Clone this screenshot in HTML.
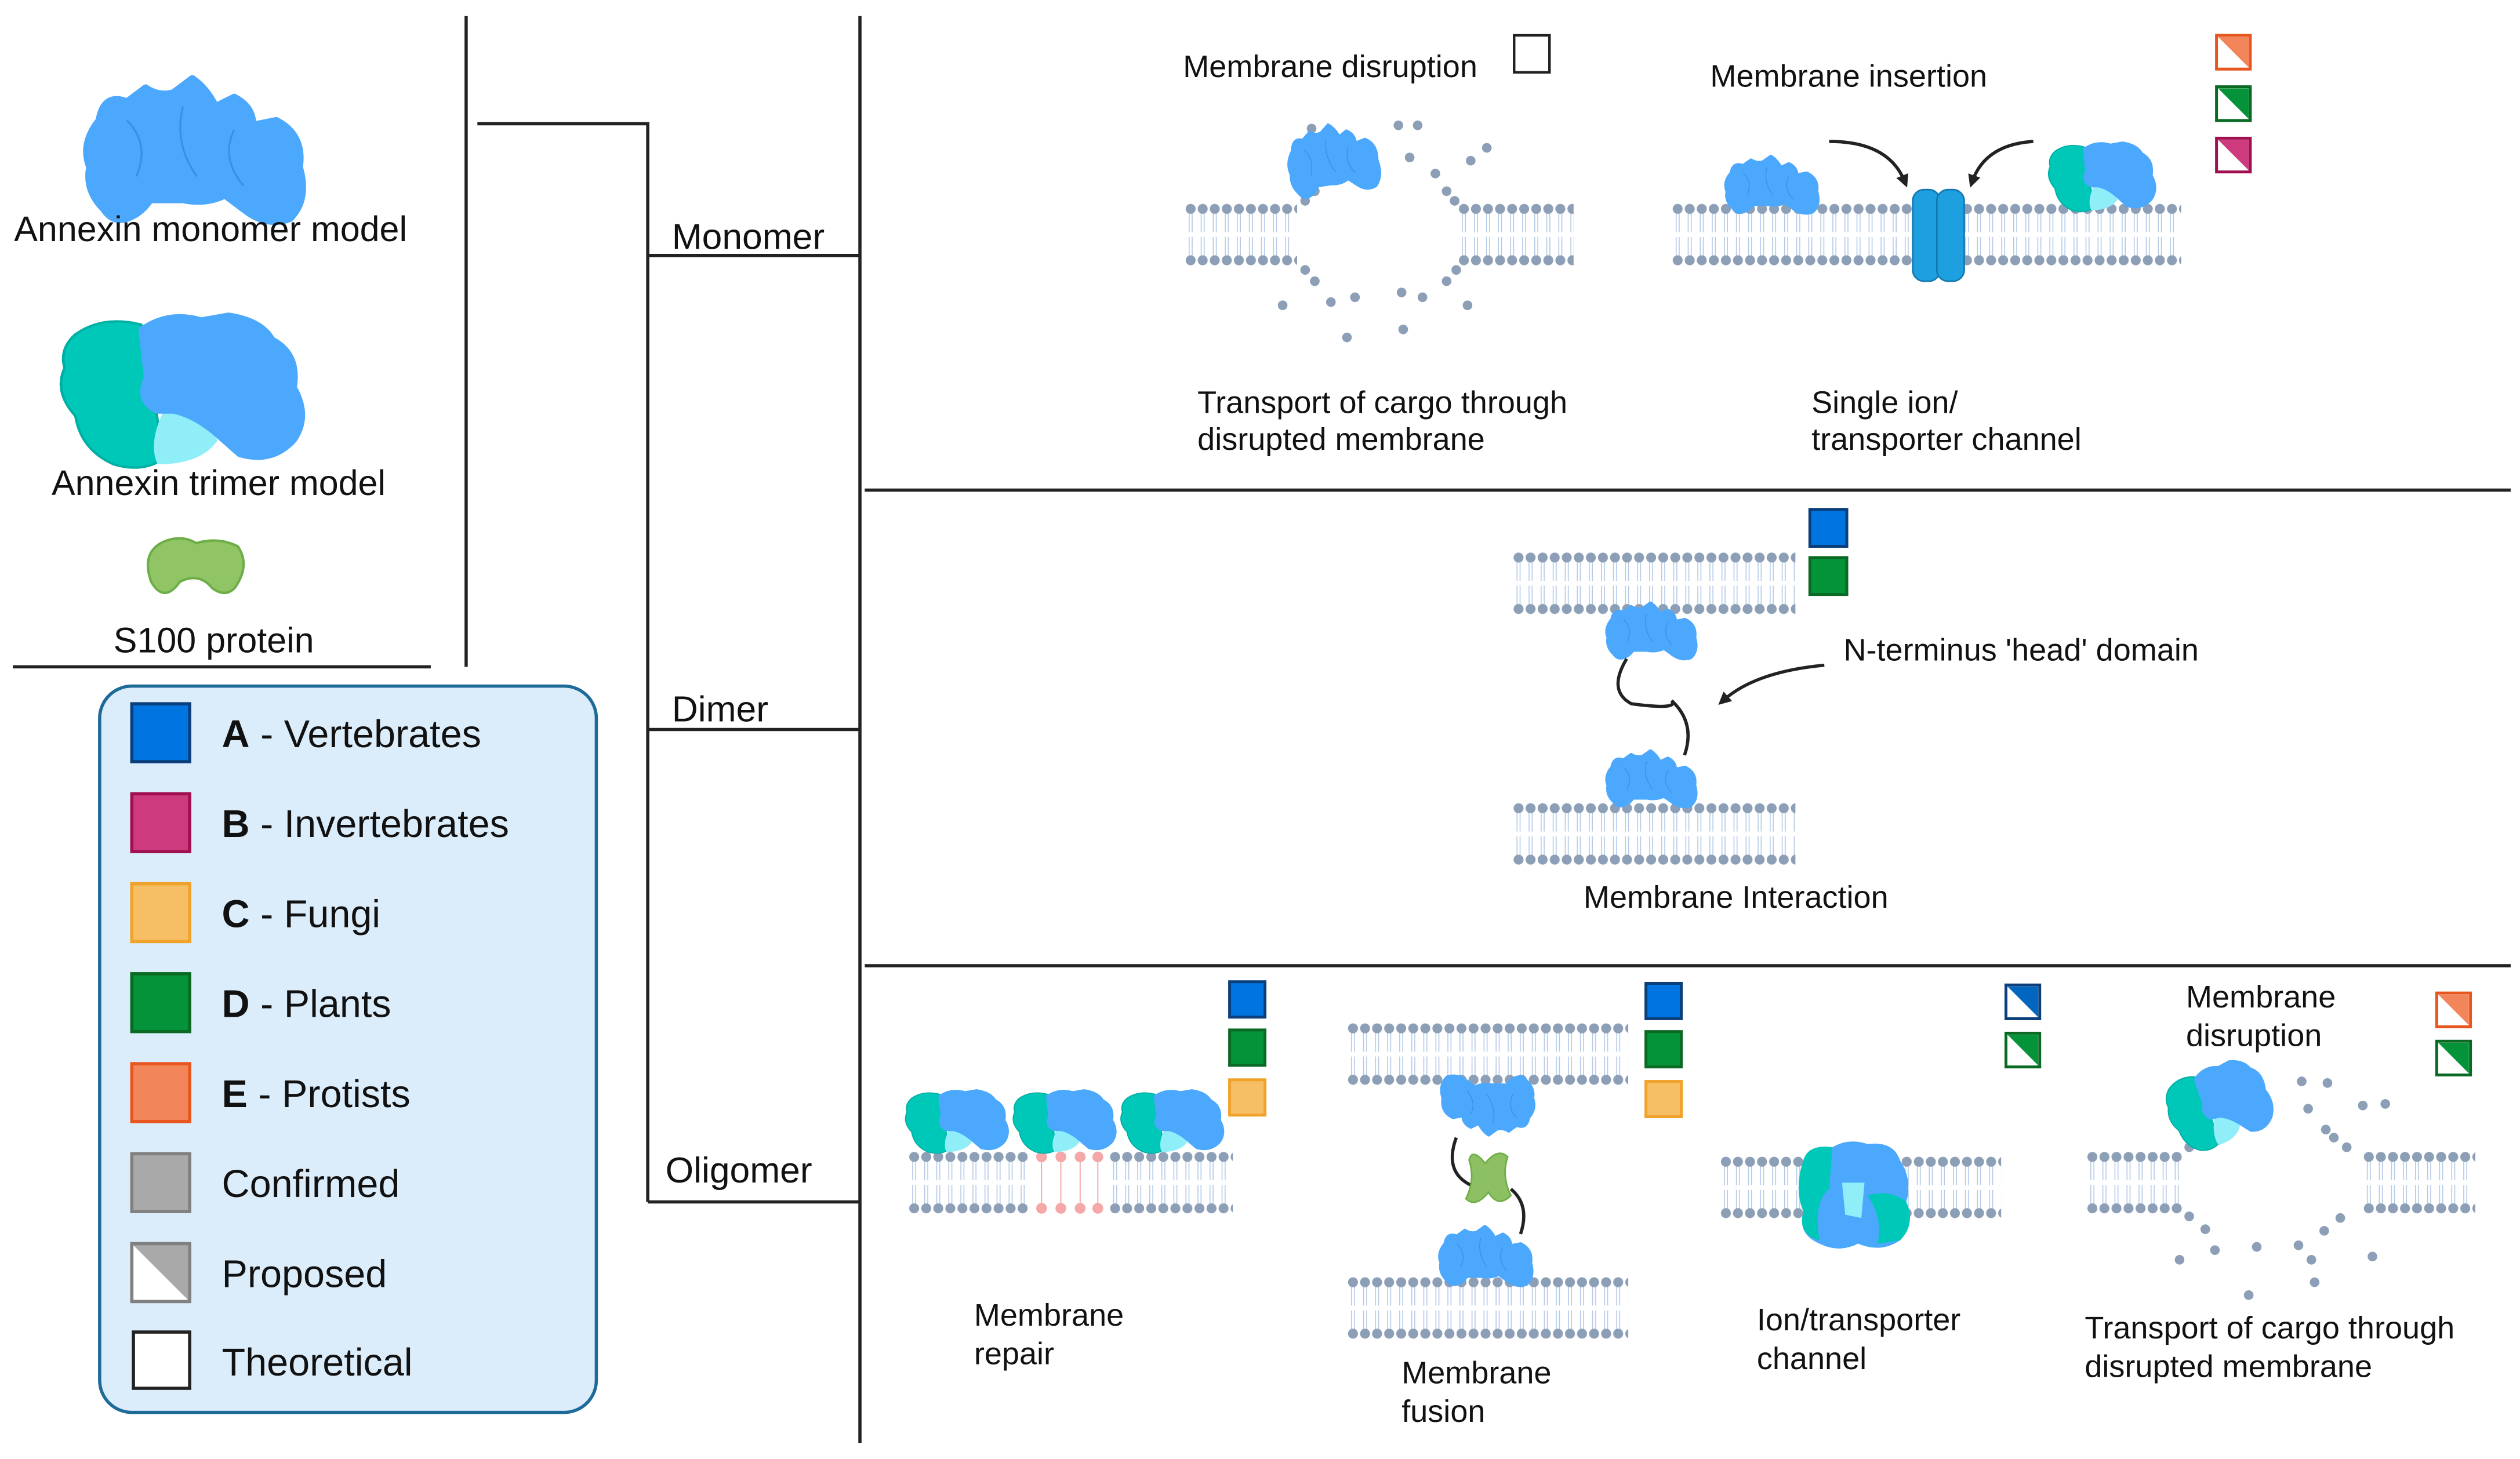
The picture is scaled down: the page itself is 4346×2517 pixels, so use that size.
<!DOCTYPE html>
<html><head><meta charset="utf-8">
<style>
html,body{margin:0;padding:0;background:#fff;}
svg{display:block;}
text{font-family:"Liberation Sans",sans-serif;fill:#111;}
</style></head>
<body>
<svg width="4346" height="2517" viewBox="0 0 1567.8 908" xmlns="http://www.w3.org/2000/svg">
<defs>
  <pattern id="mem" width="7.5" height="39" patternUnits="userSpaceOnUse">
    <line x1="2.8" y1="6" x2="2.8" y2="18" stroke="#b6cbe6" stroke-width="0.6"/>
    <line x1="4.7" y1="6" x2="4.7" y2="18" stroke="#b6cbe6" stroke-width="0.6"/>
    <line x1="2.8" y1="21" x2="2.8" y2="33" stroke="#b6cbe6" stroke-width="0.6"/>
    <line x1="4.7" y1="21" x2="4.7" y2="33" stroke="#b6cbe6" stroke-width="0.6"/>
    <circle cx="3.75" cy="3.5" r="3.1" fill="#8c9fb6"/>
    <circle cx="3.75" cy="35.5" r="3.1" fill="#8c9fb6"/>
  </pattern>
  <g id="mono">
    <path d="M8,20 Q10,8 20,12 L28,6 Q34,10 40,8 L48,2 Q54,6 58,14 L66,10 Q74,14 74,22 L84,20 Q96,26 94,40 Q98,54 90,62 Q80,66 70,58 L62,52 Q54,56 44,54 L30,54 Q26,60 20,62 Q14,64 10,58 Q2,50 4,40 Q0,30 8,20 Z" fill="#4ba8fd" stroke="#4ba8fd" stroke-width="3" stroke-linejoin="round"/>
    <path d="M20,20 Q30,30 24,44 M44,14 Q40,30 50,44 M66,24 Q60,36 70,48" fill="none" stroke="#3a8fe0" stroke-width="0.8"/>
  </g>
  <g id="tri">
    <path d="M10,12 Q20,4 34,8 L40,30 Q38,50 44,62 Q36,70 24,66 Q12,60 10,46 Q2,36 6,26 Q4,18 10,12 Z" fill="#00c8b9" stroke="#00b0a4" stroke-width="1"/>
    <path d="M44,40 Q56,44 62,56 Q56,66 40,66 Q36,56 44,40 Z" fill="#90eef8"/>
    <path d="M34,10 Q44,2 56,6 L66,4 Q78,6 82,14 Q92,20 90,34 Q96,46 90,56 Q82,66 70,62 L62,54 Q54,46 46,44 L40,44 Q32,40 36,30 Z" fill="#4ba8fd" stroke="#4ba8fd" stroke-width="2" stroke-linejoin="round"/>
  </g>
  <marker id="ah" markerWidth="8" markerHeight="8" refX="4" refY="4" orient="auto" markerUnits="userSpaceOnUse">
    <path d="M0,0 L8,4 L0,8 Z" fill="#222"/>
  </marker>
</defs>

<!-- left column -->
<use href="#mono" transform="translate(50,46) scale(1.45)"/>
<text x="131" y="150" font-size="22" text-anchor="middle">Annexin monomer model</text>
<use href="#tri" transform="translate(30,190) scale(1.7,1.5)"/>
<text x="136" y="308" font-size="22" text-anchor="middle">Annexin trimer model</text>
<path d="M94,362 Q88,345 100,338 Q112,332 122,338 Q136,334 148,340 Q156,352 146,366 Q140,372 132,366 Q124,356 112,362 Q102,376 94,362 Z" fill="#90c465" stroke="#6eae48" stroke-width="1.5"/>
<text x="133" y="406" font-size="22" text-anchor="middle">S100 protein</text>
<line x1="8" y1="415" x2="268" y2="415" stroke="#222" stroke-width="2"/>
<line x1="290" y1="10" x2="290" y2="415" stroke="#222" stroke-width="2"/>

<!-- tree -->
<g stroke="#222" stroke-width="2" fill="none">
<polyline points="297,77 403,77 403,748"/>
<line x1="403" y1="159" x2="535" y2="159"/>
<line x1="403" y1="454" x2="535" y2="454"/>
<line x1="403" y1="748" x2="535" y2="748"/>
<line x1="535" y1="10" x2="535" y2="898"/>
<line x1="538" y1="305" x2="1562" y2="305"/>
<line x1="538" y1="601" x2="1562" y2="601"/>
</g>
<text x="418" y="155" font-size="22.5">Monomer</text>
<text x="418" y="449" font-size="22.5">Dimer</text>
<text x="414" y="736" font-size="22.5">Oligomer</text>

<!-- legend -->
<rect x="62" y="427" width="309" height="452" rx="20" fill="#dbedfb" stroke="#1e6a98" stroke-width="2"/>
<g stroke-width="2">
<rect x="82" y="438" width="36" height="36" fill="#0074e0" stroke="#0b3f7c"/>
<rect x="82" y="494" width="36" height="36" fill="#cd3a7e" stroke="#a0104f"/>
<rect x="82" y="550" width="36" height="36" fill="#f6bf66" stroke="#f0a22a"/>
<rect x="82" y="606" width="36" height="36" fill="#049338" stroke="#0a6a24"/>
<rect x="82" y="662" width="36" height="36" fill="#f3855a" stroke="#e6561e"/>
<rect x="82" y="718" width="36" height="36" fill="#a9a9a9" stroke="#808080"/>
<rect x="82" y="774" width="36" height="36" fill="#fff" stroke="#808080"/>
<path d="M83,775 L117,775 L117,809 Z" fill="#a9a9a9"/>
<rect x="82" y="774" width="36" height="36" fill="none" stroke="#808080"/>
<rect x="83" y="829" width="35" height="35" fill="#fff" stroke="#222"/>
</g>
<g font-size="24">
<text x="138" y="465"><tspan font-weight="bold">A</tspan> - Vertebrates</text>
<text x="138" y="521"><tspan font-weight="bold">B</tspan> - Invertebrates</text>
<text x="138" y="577"><tspan font-weight="bold">C</tspan> - Fungi</text>
<text x="138" y="633"><tspan font-weight="bold">D</tspan> - Plants</text>
<text x="138" y="689"><tspan font-weight="bold">E</tspan> - Protists</text>
<text x="138" y="745">Confirmed</text>
<text x="138" y="801">Proposed</text>
<text x="138" y="856">Theoretical</text>
</g>

<!-- ===== Monomer section ===== -->
<text x="736" y="48" font-size="19.5">Membrane disruption</text>
<rect x="942" y="22" width="22" height="23" fill="#fff" stroke="#222" stroke-width="1.6"/>
<g transform="translate(737,126.5)"><rect width="70" height="39" fill="url(#mem)"/></g>
<g transform="translate(907,126.5)"><rect width="72" height="39" fill="url(#mem)"/></g>
<g fill="#8c9fb6">
<circle cx="812" cy="125" r="3"/><circle cx="818" cy="119" r="3"/><circle cx="900" cy="119" r="3"/><circle cx="905" cy="125" r="3"/>
<circle cx="812" cy="168" r="3"/><circle cx="818" cy="175" r="3"/><circle cx="900" cy="175" r="3"/><circle cx="906" cy="168" r="3"/>
<circle cx="816" cy="80" r="3"/><circle cx="870" cy="78" r="3"/><circle cx="882" cy="78" r="3"/><circle cx="877" cy="98" r="3"/>
<circle cx="893" cy="108" r="3"/><circle cx="915" cy="100" r="3"/><circle cx="925" cy="92" r="3"/>
<circle cx="828" cy="188" r="3"/><circle cx="843" cy="185" r="3"/><circle cx="872" cy="182" r="3"/><circle cx="885" cy="185" r="3"/>
<circle cx="798" cy="190" r="3"/><circle cx="913" cy="190" r="3"/><circle cx="838" cy="210" r="3"/><circle cx="873" cy="205" r="3"/>
</g>
<use href="#mono" transform="translate(800,76) scale(0.6,0.7) rotate(-8 50 33)"/>
<text x="745" y="257" font-size="19.5">Transport of cargo through</text>
<text x="745" y="280" font-size="19.5">disrupted membrane</text>

<text x="1064" y="54" font-size="19.5">Membrane insertion</text>
<g transform="translate(1040,126.5)"><rect width="317" height="39" fill="url(#mem)"/></g>
<rect x="1190" y="118" width="17" height="57" rx="7" fill="#1ea0e0" stroke="#1478b0" stroke-width="1"/>
<rect x="1205" y="118" width="17" height="57" rx="7" fill="#1ea0e0" stroke="#1478b0" stroke-width="1"/>
<use href="#mono" transform="translate(1072,96) scale(0.62,0.58)"/>
<use href="#tri" transform="translate(1271,86) scale(0.75,0.68)"/>
<path d="M1138,88 Q1175,88 1185,113" fill="none" stroke="#222" stroke-width="2" marker-end="url(#ah)"/>
<path d="M1265,88 Q1235,90 1227,113" fill="none" stroke="#222" stroke-width="2" marker-end="url(#ah)"/>
<g stroke-width="1.8">
<rect x="1379" y="22" width="21" height="21" fill="#fff" stroke="#e6561e"/>
<path d="M1380,23 L1399,23 L1399,42 Z" fill="#f3855a"/>
<rect x="1379" y="54" width="21" height="21" fill="#fff" stroke="#0a6a24"/>
<path d="M1380,55 L1399,55 L1399,74 Z" fill="#049338"/>
<rect x="1379" y="86" width="21" height="21" fill="#fff" stroke="#a0104f"/>
<path d="M1380,87 L1399,87 L1399,106 Z" fill="#cd3a7e"/>
</g>
<text x="1127" y="257" font-size="19.5">Single ion/</text>
<text x="1127" y="280" font-size="19.5">transporter channel</text>

<!-- ===== Dimer section ===== -->
<g transform="translate(941,343.5)"><rect width="176" height="39" fill="url(#mem)"/></g>
<g transform="translate(941,499.5)"><rect width="176" height="39" fill="url(#mem)"/></g>
<use href="#mono" transform="translate(998,374) scale(0.6,0.57)"/>
<use href="#mono" transform="translate(998,466) scale(0.6,0.57)"/>
<path d="M1012,410 Q1000,430 1015,438 Q1045,442 1040,436 Q1055,450 1048,470" fill="none" stroke="#222" stroke-width="2"/>
<path d="M1135,414 Q1092,418 1072,436" fill="none" stroke="#222" stroke-width="2" marker-end="url(#ah)"/>
<text x="1147" y="411" font-size="19.5">N-terminus 'head' domain</text>
<rect x="1126" y="317" width="23" height="23" fill="#0074e0" stroke="#0b3f7c" stroke-width="1.8"/>
<rect x="1126" y="347" width="23" height="23" fill="#049338" stroke="#0a6a24" stroke-width="1.8"/>
<text x="1080" y="565" font-size="19.5" text-anchor="middle">Membrane Interaction</text>

<!-- ===== Oligomer section ===== -->
<g transform="translate(565,716.5)"><rect width="75" height="39" fill="url(#mem)"/></g>
<g transform="translate(690,716.5)"><rect width="77" height="39" fill="url(#mem)"/></g>
<g stroke="#f4a7a7" stroke-width="0.7" fill="#f6a7a7">
<line x1="648" y1="720" x2="648" y2="752"/><line x1="660" y1="720" x2="660" y2="752"/><line x1="672" y1="720" x2="672" y2="752"/><line x1="683" y1="720" x2="683" y2="752"/>
<circle cx="648" cy="720" r="3"/><circle cx="660" cy="720" r="3"/><circle cx="672" cy="720" r="3"/><circle cx="683" cy="720" r="3"/>
<circle cx="648" cy="752" r="3"/><circle cx="660" cy="752" r="3"/><circle cx="672" cy="752" r="3"/><circle cx="683" cy="752" r="3"/>
</g>
<use href="#tri" transform="translate(560,676) scale(0.72,0.62)"/>
<use href="#tri" transform="translate(627,676) scale(0.72,0.62)"/>
<use href="#tri" transform="translate(694,676) scale(0.72,0.62)"/>
<rect x="765" y="611" width="22" height="22" fill="#0074e0" stroke="#0b3f7c" stroke-width="1.8"/>
<rect x="765" y="641" width="22" height="22" fill="#049338" stroke="#0a6a24" stroke-width="1.8"/>
<rect x="765" y="672" width="22" height="22" fill="#f6bf66" stroke="#f0a22a" stroke-width="1.8"/>
<text x="606" y="825" font-size="19.5">Membrane</text>
<text x="606" y="849" font-size="19.5">repair</text>

<g transform="translate(838,636.5)"><rect width="175" height="39" fill="url(#mem)"/></g>
<g transform="translate(838,794.5)"><rect width="175" height="39" fill="url(#mem)"/></g>
<use href="#mono" transform="translate(894,668) scale(0.62,0.6) rotate(180 50 33)"/>
<use href="#mono" transform="translate(894,762) scale(0.62,0.6)"/>
<path d="M906,708 Q898,730 916,738 M940,740 Q952,750 946,768" fill="none" stroke="#222" stroke-width="2"/>
<path d="M914,722 Q916,714 924,724 Q932,714 938,720 Q934,732 940,744 Q932,752 926,742 Q918,752 912,746 Q918,734 914,722 Z" fill="#8cc063" stroke="#6eae48" stroke-width="1"/>
<rect x="1024" y="612" width="22" height="22" fill="#0074e0" stroke="#0b3f7c" stroke-width="1.8"/>
<rect x="1024" y="642" width="22" height="22" fill="#049338" stroke="#0a6a24" stroke-width="1.8"/>
<rect x="1024" y="673" width="22" height="22" fill="#f6bf66" stroke="#f0a22a" stroke-width="1.8"/>
<text x="872" y="861" font-size="19.5">Membrane</text>
<text x="872" y="885" font-size="19.5">fusion</text>

<g transform="translate(1070,719.5)"><rect width="175" height="39" fill="url(#mem)"/></g>
<path d="M1122,722 Q1125,712 1140,714 Q1150,708 1162,712 Q1178,710 1182,722 Q1190,734 1186,748 Q1192,762 1182,772 Q1170,780 1156,774 Q1144,780 1132,774 Q1118,768 1122,754 Q1116,740 1122,722 Z" fill="#4ba8fd"/>
<path d="M1122,722 Q1125,712 1140,714 L1138,740 Q1128,748 1132,772 Q1118,768 1122,754 Q1116,740 1122,722 Z" fill="#00c8b9"/>
<path d="M1162,744 Q1176,740 1186,748 Q1192,762 1182,772 L1168,774 Q1172,760 1162,744 Z" fill="#00c8b9"/>
<path d="M1146,736 L1160,736 L1158,758 L1148,756 Z" fill="#90eef8"/>
<rect x="1248" y="613" width="21" height="21" fill="#fff" stroke="#0b3f7c" stroke-width="1.8"/>
<path d="M1249,614 L1268,614 L1268,633 Z" fill="#0066c0"/>
<rect x="1248" y="643" width="21" height="21" fill="#fff" stroke="#0a6a24" stroke-width="1.8"/>
<path d="M1249,644 L1268,644 L1268,663 Z" fill="#049338"/>
<text x="1093" y="828" font-size="19.5">Ion/transporter</text>
<text x="1093" y="852" font-size="19.5">channel</text>

<text x="1360" y="627" font-size="19.5">Membrane</text>
<text x="1360" y="651" font-size="19.5">disruption</text>
<g transform="translate(1298,716.5)"><rect width="60" height="39" fill="url(#mem)"/></g>
<g transform="translate(1470,716.5)"><rect width="70" height="39" fill="url(#mem)"/></g>
<g fill="#8c9fb6">
<circle cx="1362" cy="714" r="3"/><circle cx="1370" cy="706" r="3"/><circle cx="1460" cy="714" r="3"/><circle cx="1452" cy="708" r="3"/>
<circle cx="1362" cy="757" r="3"/><circle cx="1372" cy="765" r="3"/><circle cx="1456" cy="758" r="3"/><circle cx="1446" cy="766" r="3"/>
<circle cx="1432" cy="673" r="3"/><circle cx="1448" cy="674" r="3"/><circle cx="1436" cy="690" r="3"/><circle cx="1470" cy="688" r="3"/><circle cx="1484" cy="687" r="3"/><circle cx="1447" cy="703" r="3"/>
<circle cx="1378" cy="778" r="3"/><circle cx="1404" cy="776" r="3"/><circle cx="1430" cy="775" r="3"/><circle cx="1356" cy="784" r="3"/><circle cx="1438" cy="784" r="3"/><circle cx="1476" cy="782" r="3"/>
<circle cx="1399" cy="806" r="3"/><circle cx="1440" cy="798" r="3"/>
</g>
<use href="#tri" transform="translate(1345,660) scale(0.72,0.78) rotate(-15 50 33)"/>
<rect x="1516" y="618" width="21" height="21" fill="#fff" stroke="#e6561e" stroke-width="1.8"/>
<path d="M1517,619 L1536,619 L1536,638 Z" fill="#f3855a"/>
<rect x="1516" y="648" width="21" height="21" fill="#fff" stroke="#0a6a24" stroke-width="1.8"/>
<path d="M1517,649 L1536,649 L1536,668 Z" fill="#049338"/>
<text x="1297" y="833" font-size="19.5">Transport of cargo through</text>
<text x="1297" y="857" font-size="19.5">disrupted membrane</text>
</svg>
</body></html>
